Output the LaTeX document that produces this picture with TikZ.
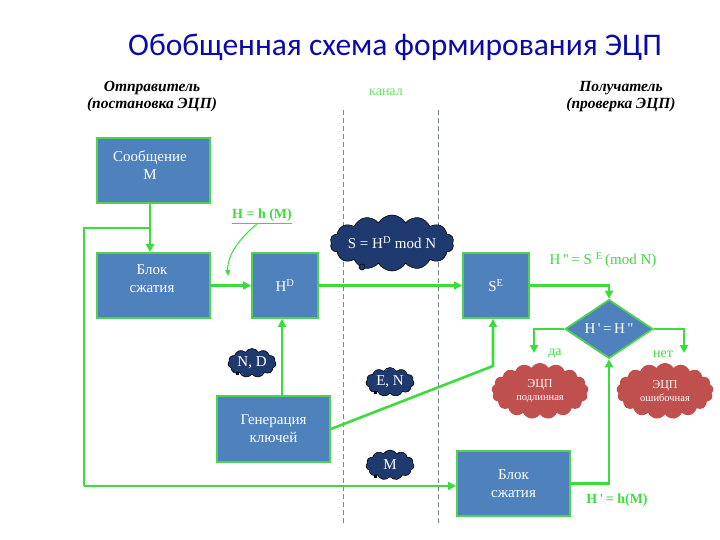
\documentclass[tikz,border=0pt]{standalone}
\usepackage{fontspec}
\setmainfont{Liberation Serif}
\newfontfamily\titlefont{Carlito}
\usetikzlibrary{arrows.meta,shapes.geometric,shapes.symbols,calc}
\definecolor{boxblue}{RGB}{79,129,189}
\definecolor{lgreen}{RGB}{60,220,60}
\definecolor{bgreen}{RGB}{80,210,80}
\definecolor{cloudblue}{RGB}{31,58,110}
\definecolor{cloudred}{RGB}{192,80,77}
\definecolor{titleblue}{RGB}{10,10,170}
\definecolor{dashcol}{RGB}{120,135,150}
\newcommand{\sq}{\textquotesingle}
\newcommand{\dq}{\textquotedbl}
\tikzset{
  box/.style={draw=bgreen,line width=1.8pt,fill=boxblue,text=white,inner sep=0pt,align=center,font=\fontsize{15}{18}\selectfont},
  boxtext/.style={text=white,align=center,font=\fontsize{15}{18}\selectfont},
  conn/.style={draw=lgreen,line width=2.6pt,-{Triangle[length=8pt,width=8pt]}},
  plain/.style={draw=lgreen,line width=2.6pt},
  dcloud/.style={cloud,cloud ignores aspect,cloud puffs=14,cloud puff arc=120,draw=black,line width=0.6pt,fill=cloudblue,text=white,inner sep=0pt,font=\fontsize{15}{18}\selectfont},
  rcloud/.style={cloud,cloud ignores aspect,cloud puffs=17,cloud puff arc=120,fill=cloudred,text=white,inner sep=0pt,align=center},
  gtext/.style={text=lgreen,font=\fontsize{15}{18}\selectfont},
  head/.style={font=\bfseries\itshape\fontsize{15.5}{17}\selectfont,align=center},
  chan/.style={draw=dashcol,line width=0.7pt,dash pattern=on 5pt off 3pt}
}
\begin{document}
\begin{tikzpicture}[x=1pt,y=-1pt]
\useasboundingbox (0,0) rectangle (720,540);
% title
\node[text=titleblue,font=\titlefont\fontsize{31.5}{34}\selectfont] (title) at (395,47) {Обобщенная схема формирования ЭЦП};
\node[head] (snd) at (152,97) {Отправитель\\(постановка ЭЦП)};
\node[head] (rcv) at (621,97) {Получатель\\(проверка ЭЦП)};
\node[text=lgreen!80!white,font=\fontsize{14}{16}\selectfont] (chan) at (386,92) {канал};
% channel
\coordinate (c1t) at (343,110); \coordinate (c1b) at (343,524);
\coordinate (c2t) at (438,110); \coordinate (c2b) at (438,524);
\draw[chan] (c1t) -- (c1b);
\draw[chan] (c2t) -- (c2b);
% boxes
\node[box,minimum width=113pt,minimum height=65pt] (msg) at (153.5,170.5) {};
\node[boxtext] (msgT) at (150,165) {Сообщение\\М};
\node[box,minimum width=113pt,minimum height=65pt] (blk1) at (153.5,285.5) {};
\node[boxtext] (blk1T) at (152,279) {Блок\\сжатия};
\node[box,minimum width=66pt,minimum height=65pt] (hd) at (285,285.5) {H\textsuperscript{D}};
\node[box,minimum width=66pt,minimum height=65pt] (se) at (496,285.5) {S\textsuperscript{E}};
\node[box,minimum width=113pt,minimum height=66pt] (gen) at (273.5,429) {Генерация\\ключей};
\node[box,minimum width=113pt,minimum height=65pt] (blk2) at (513.5,483.5) {Блок\\сжатия};
\node[diamond,draw=bgreen,line width=1.8pt,fill=boxblue,text=white,inner sep=0pt,minimum width=88pt,minimum height=57pt,font=\fontsize{15}{18}\selectfont] (dia) at (609,329) {H\,\sq\,=\,H\,\dq};
% clouds
\node[dcloud,minimum width=114pt,minimum height=56pt] (sc) at (392,243) {S = H\textsuperscript{D} mod N};
\node[circle,draw=black,fill=cloudblue,minimum size=6pt,inner sep=0pt,line width=0.6pt] (scdot) at (362,267) {};
\node[dcloud,cloud puffs=11,minimum width=48pt,minimum height=29pt] (nd) at (252,363) {N, D};
\node[dcloud,cloud puffs=11,minimum width=48pt,minimum height=29pt] (en) at (390,382) {E, N};
\node[dcloud,cloud puffs=11,minimum width=48pt,minimum height=30pt] (mc) at (390,465) {M};
\node[fill=black,minimum size=3pt,inner sep=0pt] (ndq) at (237,373) {};
\node[fill=black,minimum size=3pt,inner sep=0pt] (enq) at (375,392) {};
\node[fill=black,minimum size=3pt,inner sep=0pt] (mcq) at (375,476) {};
\node[rcloud,minimum width=97pt,minimum height=56pt] (ok) at (540,391) {\fontsize{12}{14}\selectfont ЭЦП\\[1pt]\fontsize{10.5}{12}\selectfont подлинная};
\node[rcloud,minimum width=97pt,minimum height=56pt] (bad) at (665,391) {\fontsize{12}{14}\selectfont ЭЦП\\[1pt]\fontsize{10.5}{12}\selectfont ошибочная};
% green labels
\node[text=lgreen,font=\bfseries\fontsize{14}{16}\selectfont] (hlab) at (262,216) {\underline{H = h (M)}};
\node[gtext] (hpp) at (603,260) {H\,\dq\,= S \textsuperscript{E}\,(mod N)};
\node[text=lgreen,font=\fontsize{14}{16}\selectfont] (da) at (555,354) {да};
\node[text=lgreen,font=\fontsize{14}{16}\selectfont] (net) at (663,354) {нет};
\node[text=lgreen,font=\bfseries\fontsize{14}{16}\selectfont] (hp) at (617,500) {H\,\sq\,= h(M)};
% connectors
\coordinate (br) at (150,228);
\coordinate (lb1) at (84,228);
\coordinate (lb2) at (84,486);
\draw[conn] (msg.south -| br) -- (blk1.north -| br);
\draw[plain] (br) -- (lb1) -- (lb2);
\draw[conn] (lb2) -- (blk2.west |- lb2);
\draw[conn] (blk1.east) -- (hd.west);
\draw[conn] (hd.east) -- (se.west);
\draw[conn] (se.east) -| (dia.north);
\coordinate (daend) at (534,353);
\coordinate (netend) at (684,353);
\draw[conn] (dia.west) -| (daend);
\draw[conn] (dia.east) -| (netend);
\draw[conn] (blk2.east) -| (dia.south);
\coordinate (genx) at (282,0);
\draw[conn] (gen.north -| genx) -- (hd.south -| genx);
\coordinate (kink) at (493,366);
\draw[conn] (gen.east) -- (kink) -- (kink |- se.south);
\coordinate (cst) at (257,224);
\coordinate (cen) at (228,276);
\draw[draw=lgreen,line width=1pt,-{Triangle[length=6pt,width=5pt]}] (cst) .. controls (240,238) and (227,255) .. (cen);
\end{tikzpicture}
\end{document}
